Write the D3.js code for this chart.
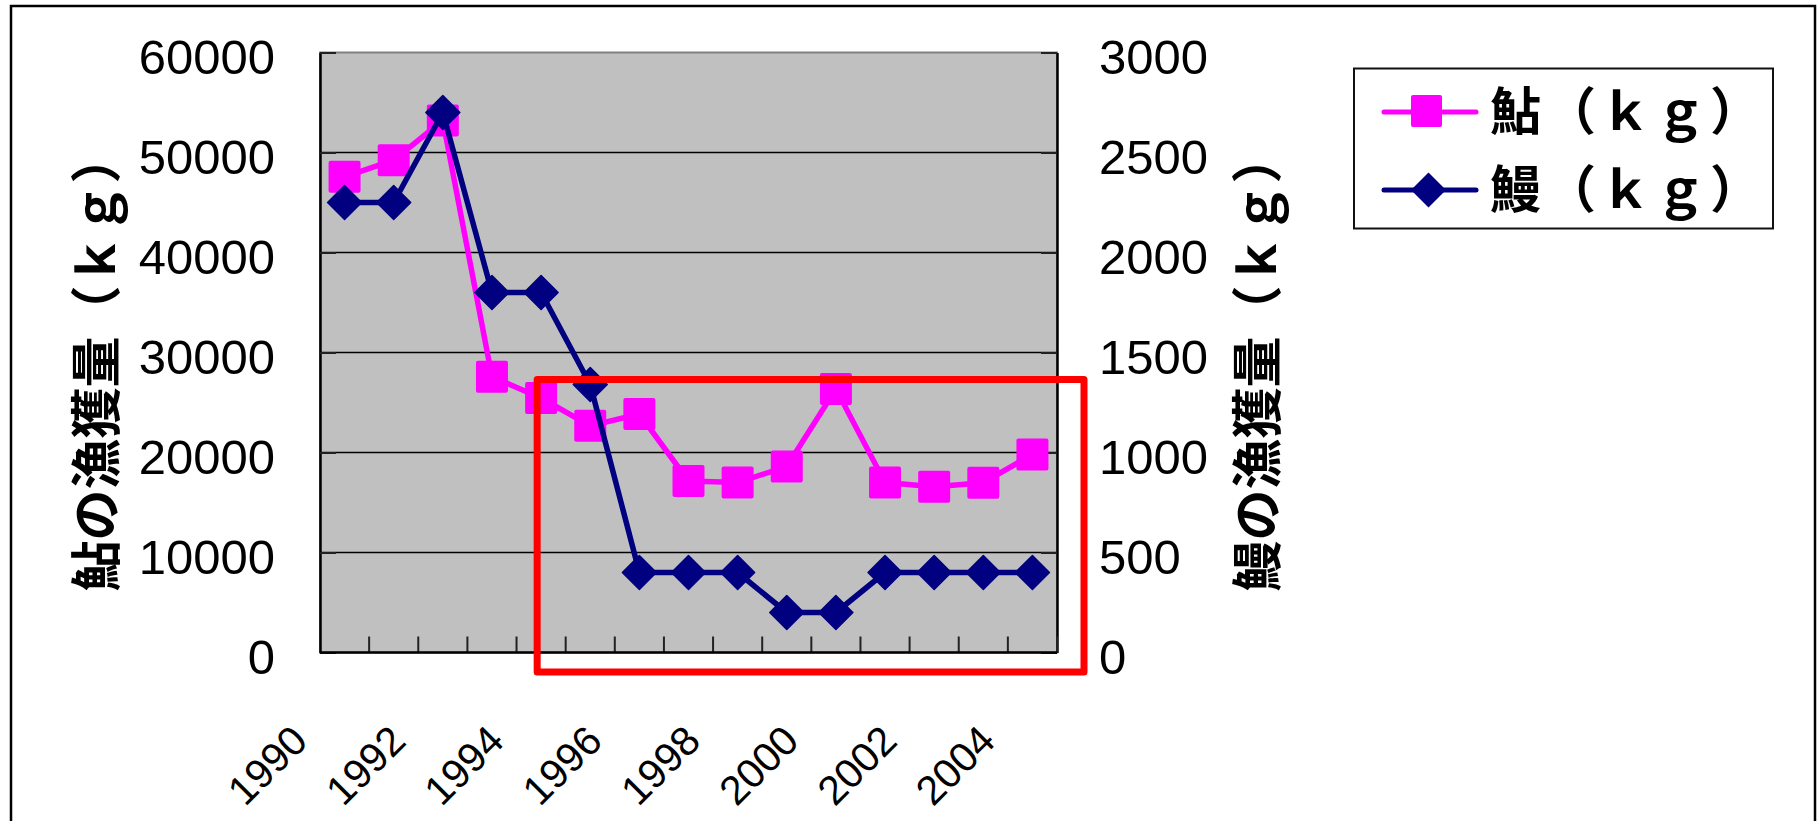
<!DOCTYPE html>
<html>
<head>
<meta charset="utf-8">
<script src="https://cdn.jsdelivr.net/npm/d3@7"></script>
<style>
  html, body { margin: 0; padding: 0; background: #ffffff; }
  svg { display: block; }
</style>
</head>
<body>
<svg id="chart" width="1818" height="821"></svg>
<script>
// Annual catch at the river: ayu (left axis) and eel (right axis), in kg
const years = ["1990", "1991", "1992", "1993", "1994", "1995", "1996", "1997",
               "1998", "1999", "2000", "2001", "2002", "2003", "2004"];
const ayuKg = [47570, 49230, 53200, 27570, 25450, 22670, 23850, 17150,
               17000, 18600, 26350, 17000, 16580, 16980, 19800];
const unagiKg = [2250, 2250, 2700, 1800, 1800, 1340, 400, 400,
                 400, 200, 200, 400, 400, 400, 400];
const leftTicks = [0, 10000, 20000, 30000, 40000, 50000, 60000];
const rightTicks = [0, 500, 1000, 1500, 2000, 2500, 3000];
const yearLabels = ["1990", "1992", "1994", "1996", "1998", "2000", "2002", "2004"];
const seriesNames = ["鮎（ｋｇ）", "鰻（ｋｇ）"];
const leftTitle = "鮎の漁獲量（ｋｇ）";
const rightTitle = "鰻の漁獲量（ｋｇ）";

const AYU = "#FF00FF", UNAGI = "#000080";
const NUM_FONT = "'Liberation Sans', Arial, sans-serif";
const JP_FONT = "'Noto Sans CJK JP', 'Noto Sans CJK SC', sans-serif";

const svg = d3.select("#chart");
const plot = { left: 320, right: 1057, top: 52.5, bottom: 652.5 };

const x = d3.scaleBand().domain(years).range([plot.left, plot.right]).padding(0);
const yL = d3.scaleLinear().domain([0, 60000]).range([plot.bottom, plot.top]);
const yR = d3.scaleLinear().domain([0, 3000]).range([plot.bottom, plot.top]);
const cx = d => x(d) + x.bandwidth() / 2;

// outer frame
svg.append("rect")
  .attr("x", 11).attr("y", 6).attr("width", 1804).attr("height", 840)
  .attr("fill", "#fff").attr("stroke", "#000").attr("stroke-width", 2.5);

// plot area
svg.append("rect")
  .attr("x", plot.left).attr("y", plot.top)
  .attr("width", plot.right - plot.left).attr("height", plot.bottom - plot.top)
  .attr("fill", "#C0C0C0").attr("stroke", "#808080").attr("stroke-width", 2);

// gridlines
svg.append("g").selectAll("line")
  .data(leftTicks.filter(v => v > 0 && v < 60000))
  .join("line")
  .attr("x1", plot.left).attr("x2", plot.right)
  .attr("y1", d => yL(d)).attr("y2", d => yL(d))
  .attr("stroke", "#000").attr("stroke-width", 1.6);

// left axis
const gL = svg.append("g").attr("transform", `translate(${plot.left},0)`)
  .call(d3.axisLeft(yL).tickValues(leftTicks).tickFormat(d3.format("d"))
    .tickSizeInner(-16).tickSizeOuter(0).tickPadding(45));
// right axis
const gR = svg.append("g").attr("transform", `translate(${plot.right},0)`)
  .call(d3.axisRight(yR).tickValues(rightTicks).tickFormat(d3.format("d"))
    .tickSizeInner(-16).tickSizeOuter(0).tickPadding(42));
[gL, gR].forEach(g => {
  g.select(".domain").attr("stroke", "#000").attr("stroke-width", 2.5);
  g.selectAll(".tick line").attr("stroke", "#222").attr("stroke-width", 2);
  g.selectAll(".tick text")
    .attr("font-family", NUM_FONT).attr("font-size", 49)
    .attr("fill", "#000").attr("dy", "0.42em");
});

// bottom axis: tick marks on the category boundaries
const edges = years.map(d => x(d)).slice(1).concat([plot.right]);
svg.append("g").selectAll("line").data(edges).join("line")
  .attr("x1", d => d).attr("x2", d => d)
  .attr("y1", plot.bottom).attr("y2", plot.bottom - 16)
  .attr("stroke", "#222").attr("stroke-width", 2);
svg.append("line")
  .attr("x1", plot.left).attr("x2", plot.right)
  .attr("y1", plot.bottom).attr("y2", plot.bottom)
  .attr("stroke", "#000").attr("stroke-width", 2.5);

// rotated year labels
svg.append("g").selectAll("text").data(yearLabels).join("text")
  .attr("transform", d => `translate(${cx(d) - 35},743) rotate(-45)`)
  .attr("text-anchor", "end")
  .attr("font-family", NUM_FONT).attr("font-size", 41).attr("fill", "#000")
  .text(d => d);

// axis titles
svg.append("text")
  .attr("transform", `translate(93,362) rotate(-90)`)
  .attr("text-anchor", "middle").attr("dominant-baseline", "central")
  .attr("font-family", JP_FONT).attr("font-weight", "bold").attr("font-size", 51)
  .text(leftTitle);
svg.append("text")
  .attr("transform", `translate(1254,362) rotate(-90)`)
  .attr("text-anchor", "middle").attr("dominant-baseline", "central")
  .attr("font-family", JP_FONT).attr("font-weight", "bold").attr("font-size", 51)
  .text(rightTitle);

// series
const diamondPath = (r) => `M0,${-r}L${r},0L0,${r}L${-r},0Z`;

const ayuPts = years.map((d, i) => [cx(d), yL(ayuKg[i])]);
const unagiPts = years.map((d, i) => [cx(d), yR(unagiKg[i])]);

svg.append("path").datum(ayuPts)
  .attr("d", d3.line()).attr("fill", "none")
  .attr("stroke", AYU).attr("stroke-width", 5.5).attr("stroke-linejoin", "round");
svg.append("g").selectAll("rect").data(ayuPts).join("rect")
  .attr("x", d => d[0] - 16).attr("y", d => d[1] - 16)
  .attr("width", 32).attr("height", 32).attr("rx", 2)
  .attr("fill", AYU);

svg.append("path").datum(unagiPts)
  .attr("d", d3.line()).attr("fill", "none")
  .attr("stroke", UNAGI).attr("stroke-width", 5.5).attr("stroke-linejoin", "round");
svg.append("g").selectAll("path").data(unagiPts).join("path")
  .attr("transform", d => `translate(${d[0]},${d[1]})`)
  .attr("d", diamondPath(17))
  .attr("fill", UNAGI).attr("stroke", UNAGI).attr("stroke-width", 1.5)
  .attr("stroke-linejoin", "round");

// highlight box around the low-catch years
const hx0 = x("1994") + x.bandwidth() * 0.42;
const hx1 = plot.right + 27;
const hy0 = yL(27300);
const hy1 = yL(0) + 19.5;
svg.append("rect")
  .attr("x", hx0).attr("y", hy0).attr("width", hx1 - hx0).attr("height", hy1 - hy0)
  .attr("fill", "none").attr("stroke", "#FF0000").attr("stroke-width", 7)
  .attr("stroke-linejoin", "round");

// legend
const lg = svg.append("g");
lg.append("rect")
  .attr("x", 1354).attr("y", 68.5).attr("width", 419).attr("height", 160)
  .attr("fill", "#fff").attr("stroke", "#111").attr("stroke-width", 2);
const legendRows = [
  { name: seriesNames[0], color: AYU, y: 112, shape: "square", ty: 108 },
  { name: seriesNames[1], color: UNAGI, y: 190, shape: "diamond", ty: 186 }
];
legendRows.forEach(r => {
  lg.append("line")
    .attr("x1", 1384).attr("x2", 1476).attr("y1", r.y).attr("y2", r.y)
    .attr("stroke", r.color).attr("stroke-width", 5).attr("stroke-linecap", "round");
  if (r.shape === "square") {
    lg.append("rect").attr("x", 1411).attr("y", r.y - 17)
      .attr("width", 31).attr("height", 32).attr("rx", 2).attr("fill", r.color);
  } else {
    lg.append("path").attr("transform", `translate(1428.5,${r.y})`)
      .attr("d", diamondPath(17.5)).attr("fill", r.color);
  }
  lg.append("text")
    .attr("x", 1490).attr("y", r.ty).attr("dominant-baseline", "central")
    .attr("font-family", JP_FONT).attr("font-weight", "bold").attr("font-size", 51)
    .attr("letter-spacing", 4)
    .attr("fill", "#000").text(r.name);
});
</script>
</body>
</html>
